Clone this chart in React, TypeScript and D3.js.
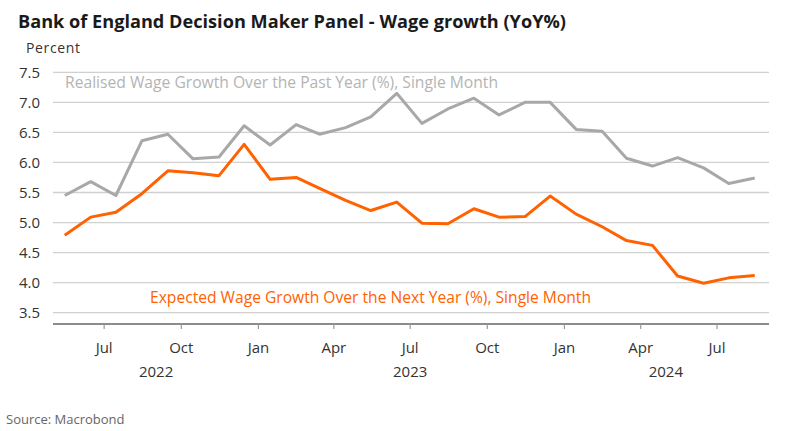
import React from "react";
import * as d3 from "d3";

const months: string[] = [
  "2022-05", "2022-06", "2022-07", "2022-08", "2022-09", "2022-10", "2022-11", "2022-12",
  "2023-01", "2023-02", "2023-03", "2023-04", "2023-05", "2023-06", "2023-07", "2023-08",
  "2023-09", "2023-10", "2023-11", "2023-12", "2024-01", "2024-02", "2024-03", "2024-04",
  "2024-05", "2024-06", "2024-07", "2024-08",
];
const realised: number[] = [
  5.45, 5.68, 5.45, 6.36, 6.47, 6.06, 6.09, 6.61,
  6.29, 6.63, 6.47, 6.58, 6.76, 7.15, 6.65, 6.89,
  7.07, 6.79, 7.0, 7.0, 6.55, 6.52, 6.07, 5.94,
  6.08, 5.91, 5.65, 5.74,
];
const expected: number[] = [
  4.79, 5.09, 5.17, 5.48, 5.86, 5.83, 5.78, 6.3,
  5.72, 5.75, 5.57, 5.37, 5.2, 5.34, 4.99, 4.98,
  5.23, 5.09, 5.1, 5.44, 5.14, 4.93, 4.7, 4.62,
  4.11, 3.99, 4.08, 4.12,
];
const yTicks: number[] = [3.5, 4.0, 4.5, 5.0, 5.5, 6.0, 6.5, 7.0, 7.5];
const xTicks: string[] = ["2022-07", "2022-10", "2023-01", "2023-04", "2023-07", "2023-10", "2024-01", "2024-04", "2024-07"];
const yearLabels: { year: string; center: string }[] = [
  { year: "2022", center: "2022-09-01" },
  { year: "2023", center: "2023-07-01" },
  { year: "2024", center: "2024-05-01" },
];

const title = "Bank of England Decision Maker Panel - Wage growth (YoY%)";
const realisedLabel = "Realised Wage Growth Over the Past Year (%), Single Month";
const expectedLabel = "Expected Wage Growth Over the Next Year (%), Single Month";

const W = 794, H = 431;
const FONT = "'Open Sans', 'Noto Sans', sans-serif";
const GRAY = "#a8a8a8";
const ORANGE = "#ff6200";

export default function App() {
  const x = d3.scaleTime()
    .domain([new Date(2022, 4, 1), new Date(2024, 8, 1)])
    .range([53, 769]);
  const y = d3.scaleLinear().domain([3.312, 7.5]).range([324, 72.3]);
  const mid = (m: string) => {
    const [yy, mm] = m.split("-").map(Number);
    return new Date(yy, mm - 1, 15);
  };
  const line = d3.line<number>()
    .x((_, i) => x(mid(months[i])))
    .y((d) => y(d));
  const tickDate = (m: string) => {
    const [yy, mm] = m.split("-").map(Number);
    return new Date(yy, mm - 1, 1);
  };
  const monthFmt = d3.timeFormat("%b");
  return (
    <svg width={W} height={H} style={{ position: "absolute", left: 0, top: 0, background: "#fff" }} fontFamily={FONT}>
      <text x={18} y={28} fontSize={17.5} fontWeight={700} fill="#1a1a1a" textLength={548} lengthAdjust="spacingAndGlyphs">{title}</text>
      <text x={26} y={53} fontSize={14} fill="#333" textLength={54}>Percent</text>
      {yTicks.map((t) => (
        <g key={t}>
          <line x1={53} x2={769} y1={y(t)} y2={y(t)} stroke="#d0d0d0" strokeWidth={1.3} />
          <text x={40} y={y(t)} dy="0.35em" textAnchor="end" fontSize={15} fill="#333">{t.toFixed(1)}</text>
        </g>
      ))}
      <line x1={53} x2={769} y1={324} y2={324} stroke="#666" strokeWidth={1.5} />
      {xTicks.map((m) => (
        <g key={m}>
          <line x1={x(tickDate(m))} x2={x(tickDate(m))} y1={324} y2={329} stroke="#999" strokeWidth={1.2} />
          <text x={x(tickDate(m))} y={348} dy="0.35em" textAnchor="middle" fontSize={15} fill="#333">{monthFmt(tickDate(m))}</text>
        </g>
      ))}
      {yearLabels.map((yl) => (
        <text key={yl.year} x={x(new Date(yl.center))} y={372} dy="0.35em" textAnchor="middle" fontSize={15} fill="#333">{yl.year}</text>
      ))}
      <path d={line(realised) || ""} fill="none" stroke={GRAY} strokeWidth={3} strokeLinejoin="round" />
      <path d={line(expected) || ""} fill="none" stroke={ORANGE} strokeWidth={3} strokeLinejoin="round" />
      <text x={65} y={88} fontSize={15.5} fill="#b4b4b4" textLength={433} lengthAdjust="spacingAndGlyphs">{realisedLabel}</text>
      <text x={150} y={303} fontSize={15.5} fill={ORANGE} textLength={441} lengthAdjust="spacingAndGlyphs">{expectedLabel}</text>
      <text x={6} y={424} fontSize={13} fill="#666">Source: Macrobond</text>
    </svg>
  );
}
